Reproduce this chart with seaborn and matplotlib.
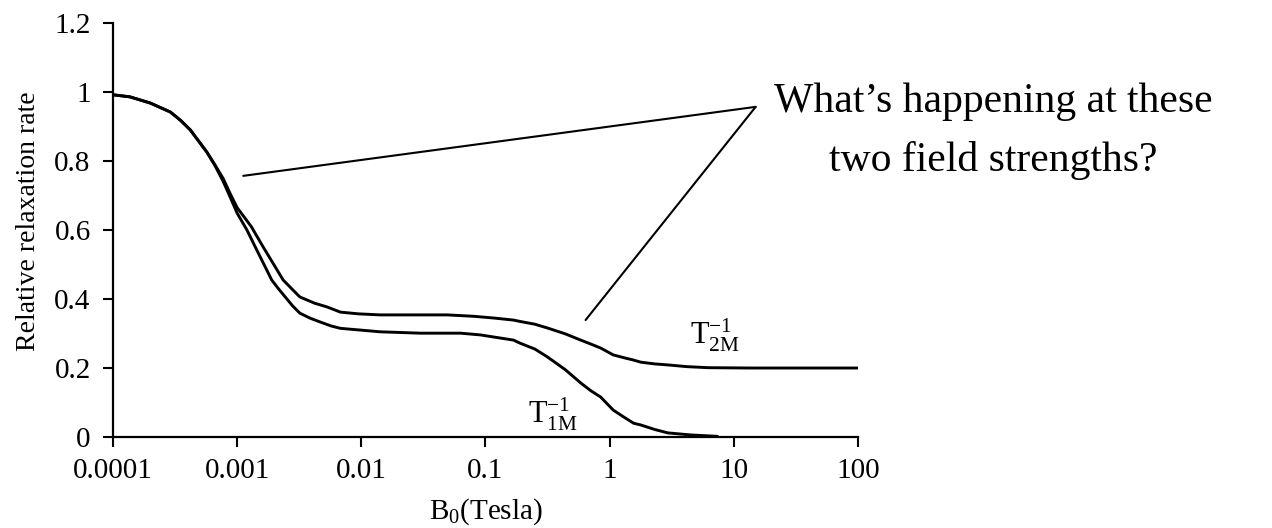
import numpy as np
import pandas as pd
import matplotlib
matplotlib.use("Agg")
import matplotlib.pyplot as plt
import seaborn as sns

# ---- data ----
b_t2 = [1e-4, 1.37e-4, 2.0e-4, 2.9e-4, 3.5e-4, 4.2e-4, 5.7e-4, 6.6e-4, 7.7e-4, 8.8e-4,
        1.0e-3, 1.3e-3, 1.62e-3, 2.35e-3, 2.8e-3, 3.2e-3, 4.2e-3, 5.3e-3, 6.8e-3,
        9.5e-3, 0.0142, 0.03, 0.049, 0.08, 0.116, 0.168, 0.19, 0.25, 0.316,
        0.44, 0.584, 0.7, 0.846, 1.07, 1.3, 1.56, 1.78, 2.3, 2.94, 4.2, 6.2,
        13.7, 100.0]
r_t2 = [0.992, 0.986, 0.968, 0.942, 0.918, 0.89, 0.826, 0.79, 0.75, 0.705,
        0.665, 0.61, 0.551, 0.455, 0.427, 0.406, 0.388, 0.377, 0.362,
        0.357, 0.354, 0.354, 0.354, 0.35, 0.345, 0.339, 0.335, 0.327, 0.316,
        0.299, 0.281, 0.27, 0.258, 0.238, 0.23, 0.223, 0.217, 0.212, 0.209,
        0.204, 0.201, 0.2, 0.2]

b_t1 = [1e-4, 1.37e-4, 2.0e-4, 2.9e-4, 3.5e-4, 4.2e-4, 5.7e-4, 6.6e-4, 7.7e-4, 8.8e-4,
        1.0e-3, 1.2e-3, 1.4e-3, 1.9e-3, 2.15e-3, 2.44e-3, 2.8e-3, 3.2e-3, 3.9e-3,
        4.7e-3, 5.7e-3, 6.8e-3, 0.0142, 0.0299, 0.063, 0.091, 0.116, 0.168,
        0.19, 0.25, 0.316, 0.44, 0.584, 0.7, 0.846, 1.07, 1.3, 1.56, 1.78,
        2.3, 2.94, 4.5, 7.4]
r_t1 = [0.992, 0.986, 0.968, 0.942, 0.918, 0.89, 0.826, 0.788, 0.742, 0.695,
        0.649, 0.60, 0.551, 0.455, 0.43, 0.406, 0.38, 0.359, 0.344,
        0.333, 0.322, 0.315, 0.305, 0.301, 0.301, 0.296, 0.29, 0.281,
        0.272, 0.255, 0.232, 0.195, 0.157, 0.135, 0.116, 0.078, 0.058, 0.04,
        0.035, 0.022, 0.012, 0.006, 0.002]

x_ticks = [0.0001, 0.001, 0.01, 0.1, 1, 10, 100]
x_tick_labels = ["0.0001", "0.001", "0.01", "0.1", "1", "10", "100"]
y_ticks = [0, 0.2, 0.4, 0.6, 0.8, 1.0, 1.2]
y_tick_labels = ["0", "0.2", "0.4", "0.6", "0.8", "1", "1.2"]

question_lines = ["What\u2019s happening at these", "two field strengths?"]
# pointer lines (data coords): from curve points to the question
ptr1_x = [1.12e-3, 15.0]
ptr1_y = [0.757, 0.957]
ptr2_x = [0.64, 15.0]
ptr2_y = [0.339, 0.957]

df = pd.concat([
    pd.DataFrame({"B": b_t2, "rate": r_t2, "series": "T2M"}),
    pd.DataFrame({"B": b_t1, "rate": r_t1, "series": "T1M"}),
])

sns.set_style("ticks")
plt.rcParams["font.family"] = ["Liberation Serif", "DejaVu Serif"]
plt.rcParams["mathtext.fontset"] = "custom"
plt.rcParams["mathtext.rm"] = "Liberation Serif"
plt.rcParams["mathtext.it"] = "Liberation Serif"
plt.rcParams["text.color"] = "black"
plt.rcParams["axes.labelcolor"] = "black"

fig = plt.figure(figsize=(12.72, 5.28), dpi=100)
ax = fig.add_axes([0.0888, 0.1723, 0.6745 - 0.0888, 0.9564 - 0.1723])

sns.lineplot(data=df, x="B", y="rate", units="series", estimator=None,
             color="black", linewidth=2.1, ax=ax, legend=False, sort=False)

ax.plot(ptr1_x, ptr1_y, color="black", linewidth=1.5)
ax.plot(ptr2_x, ptr2_y, color="black", linewidth=1.5)

ax.set_xscale("log")
ax.set_xlim(1e-4, 100)
ax.set_ylim(0, 1.2)
ax.set_xticks(x_ticks)
ax.set_xticklabels(x_tick_labels)
ax.set_yticks(y_ticks)
ax.set_yticklabels(y_tick_labels)
ax.minorticks_off()
ax.tick_params(axis="both", direction="out", length=7, width=1.5,
               labelsize=21, color="black", labelcolor="black")
ax.tick_params(axis="y", pad=9)
ax.tick_params(axis="x", pad=8)
for s in ["top", "right"]:
    ax.spines[s].set_visible(False)
for s in ["left", "bottom"]:
    ax.spines[s].set_linewidth(1.6)
    ax.spines[s].set_color("black")

ax.set_xlabel(r"B$_0$(Tesla)", fontsize=21, labelpad=9)
ax.set_ylabel("Relative relaxation rate", fontsize=20)
ax.yaxis.set_label_coords(-0.097, 0.522)

ax.text(0.35, 0.065, r"$\mathrm{T}_{1\mathrm{M}}^{-1}$", fontsize=22,
        ha="center", va="center")
ax.text(7.0, 0.295, r"$\mathrm{T}_{2\mathrm{M}}^{-1}$", fontsize=22,
        ha="center", va="center")

fig.text(993 / 1272, 1 - 102 / 528, question_lines[0], fontsize=30,
         ha="center", va="center")
fig.text(993 / 1272, 1 - 160 / 528, question_lines[1], fontsize=30,
         ha="center", va="center")

fig.savefig("out.png", dpi=100)
